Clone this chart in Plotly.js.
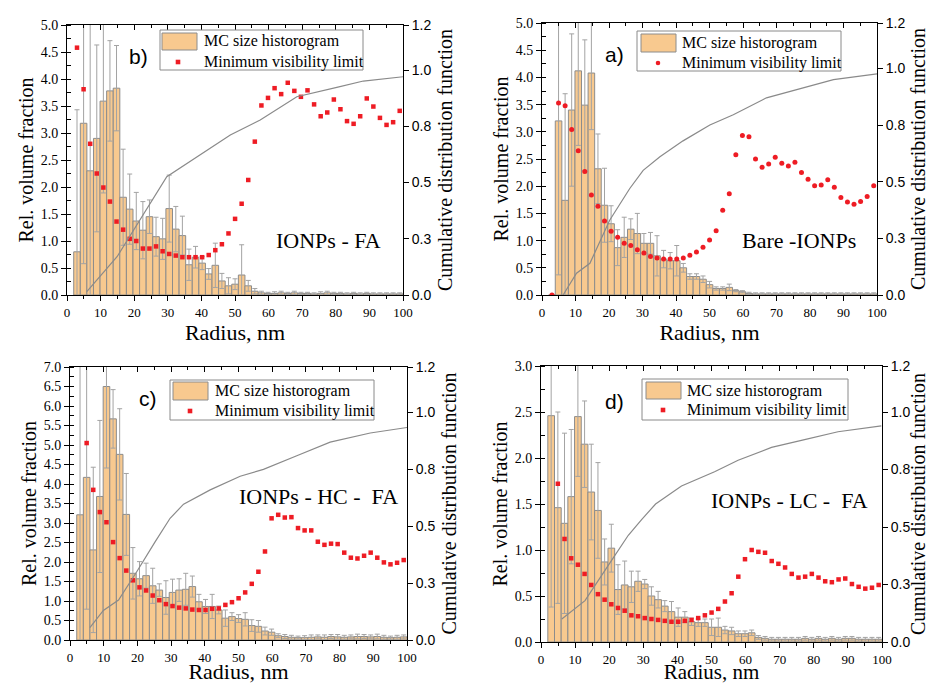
<!DOCTYPE html>
<html><head><meta charset="utf-8">
<script src="https://cdn.plot.ly/plotly-3.0.1.min.js"></script>
<style>html,body{margin:0;padding:0;background:#fff;}#chart{width:929px;height:684px;}</style>
</head><body><div id="chart"></div>
<script>
// ---------- data ----------
const radiusBins = [2.98,4.94,6.90,8.86,10.82,12.78,14.74,16.70,18.66,20.62,22.58,24.54,26.50,28.46,30.42,32.38,34.34,36.30,38.26,40.22,42.18,44.14,46.10,48.06,50.02,51.98,53.94,55.90,57.86,59.82,61.78,63.74,65.70,67.66,69.62,71.58,73.54,75.50,77.46,79.42,81.38,83.34,85.30,87.26,89.22,91.18,93.14,95.10,97.06,99.02];

// b) IONPs - FA
const volB = [0.80,3.18,2.30,2.90,3.59,3.78,3.83,1.81,1.59,1.37,1.20,1.45,1.08,1.04,1.60,1.22,1.10,0.56,0.70,0.59,0.39,0.55,0.26,0.17,0.20,0.37,0.17,0.07,0.04,0.03,0.03,0.04,0.03,0.04,0.03,0.03,0.02,0.03,0.04,0.03,0.03,0.02,0.03,0.02,0.03,0.02,0.02,0.02,0.02,0.02];
const errB = [2.63,2.60,3.00,1.73,1.70,0.93,0.79,0.89,0.65,0.53,0.53,0.31,0.36,0.38,0.62,0.42,0.36,0.29,0.20,0.12,0.10,0.41,0.14,0.15,0.10,0.56,0.10,0.05,0.03,0.02,0.03,0.03,0.02,0.03,0.02,0.02,0.02,0.03,0.03,0.02,0.02,0.02,0.02,0.02,0.02,0.02,0.02,0.02,0.02,0.02];
const mvlB = [4.58,3.81,2.80,2.25,1.99,1.73,1.36,1.21,1.04,1.00,0.86,0.86,0.90,0.81,0.76,0.73,0.70,0.70,0.70,0.70,0.74,0.83,0.94,1.14,1.41,1.69,2.13,2.84,3.51,3.65,3.83,3.72,3.93,3.78,3.67,3.79,3.53,3.31,3.38,3.62,3.44,3.22,3.17,3.31,3.64,3.49,3.28,3.15,3.20,3.41];
const cdfRadB = [5.9,14.9,29.7,41.6,48.6,57.5,68.4,80.3,88.2,100];
const cdfB = [0.015,0.17,0.526,0.644,0.711,0.778,0.881,0.923,0.951,0.97];

// a) Bare -IONPs
const volA = [0,3.20,1.74,3.40,4.12,3.49,4.08,2.32,1.65,1.31,0.87,1.06,1.21,1.13,0.95,0.95,0.72,0.66,0.63,0.63,0.50,0.34,0.34,0.29,0.19,0.12,0.12,0.14,0.08,0.06,0.03,0.02,0.02,0.02,0.02,0.02,0.02,0.02,0.02,0.02,0.02,0.02,0.02,0.02,0.02,0.02,0.02,0.02,0.02,0.02];
const errA = [0,2.83,1.96,1.40,1.37,1.20,1.04,0.64,0.68,0.33,0.33,0.37,0.19,0.37,0.18,0.20,0.37,0.16,0.15,0.28,0.08,0.05,0.05,0.06,0.06,0.03,0.03,0.06,0.02,0.02,0.02,0.02,0.02,0.02,0.02,0.02,0.02,0.02,0.02,0.02,0.02,0.02,0.02,0.02,0.02,0.02,0.02,0.02,0.02,0.02];
const mvlA = [0,3.53,3.48,3.04,2.65,2.27,1.84,1.63,1.36,1.17,1.06,0.95,0.91,0.83,0.77,0.71,0.68,0.66,0.66,0.66,0.68,0.73,0.79,0.88,1.01,1.18,1.56,1.86,2.58,2.93,2.91,2.50,2.35,2.41,2.53,2.42,2.37,2.44,2.25,2.13,2.01,2.02,2.12,1.98,1.79,1.71,1.67,1.72,1.81,2.01];
const cdfRadA = [6.3,10.3,14.3,20.2,26.2,30.2,35.2,42.1,50.1,57.1,67,77,87,100];
const cdfA = [0,0.096,0.14,0.33,0.47,0.55,0.61,0.68,0.75,0.795,0.87,0.91,0.95,0.976];

// c) IONPs - HC - FA
const volC = [3.21,4.17,2.31,3.68,6.50,5.67,4.76,3.22,1.71,1.57,1.65,1.39,1.28,1.09,1.22,1.28,1.30,1.37,0.98,0.86,0.86,0.77,0.56,0.60,0.55,0.53,0.37,0.35,0.23,0.20,0.11,0.09,0.07,0.06,0.06,0.07,0.08,0.07,0.09,0.08,0.07,0.08,0.09,0.09,0.08,0.09,0.07,0.06,0.07,0.08];
const errC = [4.00,3.38,2.12,1.95,2.09,0.75,1.17,1.05,0.66,0.44,0.32,0.45,0.16,0.43,0.34,0.29,0.41,0.27,0.19,0.18,0.31,0.10,0.21,0.10,0.10,0.17,0.15,0.15,0.10,0.08,0.05,0.05,0.05,0.04,0.05,0.06,0.05,0.06,0.05,0.06,0.05,0.05,0.06,0.05,0.05,0.06,0.05,0.04,0.05,0.05];
const mvlC = [null,5.05,3.85,3.28,3.02,2.51,2.10,1.78,1.53,1.35,1.27,1.14,1.02,0.92,0.87,0.83,0.81,0.78,0.77,0.77,0.80,0.81,0.90,0.97,1.07,1.22,1.44,1.75,2.27,3.12,3.21,3.14,3.15,2.87,2.81,2.81,2.52,2.44,2.47,2.46,2.24,2.11,2.09,2.16,2.24,2.11,1.99,1.94,1.98,2.05];
const cdfRadC = [5.9,9.9,14.4,19.8,25.2,29.7,33.7,41.6,50.5,57.4,67.3,77.2,89.1,100];
const cdfC = [0.054,0.13,0.176,0.30,0.43,0.535,0.597,0.66,0.72,0.75,0.81,0.87,0.91,0.934];

// d) IONPs - LC - FA
const volD = [2.46,1.46,1.29,1.58,2.45,2.15,1.63,1.43,0.87,1.02,0.57,0.62,0.60,0.66,0.63,0.50,0.46,0.39,0.33,0.27,0.27,0.22,0.21,0.21,0.16,0.16,0.13,0.12,0.09,0.09,0.10,0.05,0.04,0.03,0.03,0.03,0.03,0.03,0.04,0.03,0.04,0.03,0.04,0.03,0.04,0.04,0.03,0.03,0.03,0.03];
const errD = [2.08,1.04,0.98,0.73,0.65,0.47,0.52,0.52,0.25,0.26,0.27,0.26,0.17,0.11,0.05,0.10,0.09,0.06,0.11,0.10,0.06,0.04,0.04,0.04,0.09,0.10,0.04,0.04,0.03,0.03,0.03,0.02,0.02,0.02,0.02,0.02,0.02,0.02,0.02,0.02,0.02,0.02,0.02,0.02,0.02,0.02,0.02,0.02,0.02,0.02];
const mvlD = [null,1.72,1.12,0.91,0.84,0.74,0.62,0.52,0.46,0.41,0.37,0.34,0.29,0.28,0.26,0.25,0.24,0.23,0.22,0.22,0.23,0.24,0.26,0.29,0.32,0.36,0.44,0.53,0.71,0.90,1.00,0.98,0.97,0.88,0.85,0.81,0.74,0.70,0.71,0.74,0.70,0.66,0.65,0.68,0.69,0.63,0.60,0.58,0.59,0.62];
const cdfRadD = [6.1,12.9,20.7,25.6,29.5,33.6,41.2,50.9,57.8,67.6,77.3,87.1,99.8];
const cdfD = [0.10,0.18,0.355,0.464,0.532,0.60,0.678,0.74,0.79,0.846,0.88,0.914,0.94];

const cdfTickVals = [0,0.25,0.5,0.75,1.0,1.2];
const cdfTickText = ["0.0","0.3","0.5","0.8","1.0","1.2"];
const legendTexts = ["MC size historogram","Minimum visibility limit"];

// ---------- layout ----------
const W = 929, H = 684;
const px = x => x / W, py = y => 1 - y / H;
const SERIF = "Liberation Serif, 'Times New Roman', serif";
const SANS = "Liberation Sans, Arial, sans-serif";
const BAR_FILL = '#F8C98F', BAR_LINE = '#8c8c8c', ERR = '#a3a3a3', RED = '#ee1c24', CDF_LINE = '#8a8a8a';

const panels = [
  {tag:'b)', label:'IONPs - FA', vol:volB, err:errB, mvl:mvlB, cr:cdfRadB, cdf:cdfB, box:[67,25,403,295], yMax:5, sym:'square', xst:4, xfs:22,
   tagPos:[138,56], labPos:[328,240], leg:[160,30,363,70], sw:[162,33,197,50], mk:[178,62], tx:202},
  {tag:'a)', label:'Bare -IONPs', vol:volA, err:errA, mvl:mvlA, cr:cdfRadA, cdf:cdfA, box:[542,23,877,295], yMax:5, sym:'circle', xst:4, xfs:22,
   tagPos:[614,54], labPos:[799,240], leg:[637,31,841,71], sw:[641,34,676,52], mk:[658,63], tx:680},
  {tag:'c)', label:'IONPs - HC -\u00a0 FA', vol:volC, err:errC, mvl:mvlC, cr:cdfRadC, cdf:cdfC, box:[70,367,407,640], yMax:7, sym:'square', xst:1, xfs:22,
   tagPos:[148,398], labPos:[318,496], leg:[170,380,374,420], sw:[173,382,208,400], mk:[190,411], tx:213},
  {tag:'d)', label:'IONPs - LC -\u00a0 FA', vol:volD, err:errD, mvl:mvlD, cr:cdfRadD, cdf:cdfD, box:[541,366,882,642], yMax:3, sym:'square', xst:5, xfs:21,
   tagPos:[614,401], labPos:[789,500], leg:[642,379,848,420], sw:[646,382,681,399], mk:[663,410], tx:685}
];

const data = [];
const layout = {
  width: W, height: H, margin: {l:0, r:0, t:0, b:0},
  paper_bgcolor: '#fff', plot_bgcolor: 'rgba(0,0,0,0)',
  showlegend: false, bargap: 0,
  font: {family: SERIF, color: '#000'},
  shapes: [], annotations: []
};

panels.forEach((p, i) => {
  const xn = i === 0 ? '' : String(i + 1);
  const xt = String(i + 5);
  const yl = i === 0 ? '' : String(2 * i + 1);
  const yr = String(2 * i + 2);
  const xref = 'x' + xn, ylref = 'y' + yl, yrref = 'y' + yr;
  const [x0, y0, x1, y1] = p.box;

  layout['xaxis' + xn] = {
    domain: [px(x0), px(x1)], anchor: ylref, range: [0, 100],
    dtick: 10, tick0: 0, ticks: 'outside', ticklen: 5, tickcolor: '#000',
    minor: {dtick: 5, ticks: 'outside', ticklen: 3, tickcolor: '#000'},
    showline: true, linecolor: '#000', linewidth: 1, mirror: true,
    showgrid: false, zeroline: false,
    tickfont: {family: SERIF, size: 13},
    title: {text: 'Radius, nm', font: {family: SERIF, size: p.xfs}, standoff: p.xst}
  };
  // top edge: inward-pointing ticks only
  layout['xaxis' + xt] = {
    overlaying: xref, anchor: ylref, side: 'top', range: [0, 100],
    dtick: 10, tick0: 0, ticks: 'inside', ticklen: 5, tickcolor: '#000',
    minor: {dtick: 5, ticks: 'inside', ticklen: 3, tickcolor: '#000'},
    showticklabels: false, showline: false, showgrid: false, zeroline: false
  };
  layout['yaxis' + yl] = {
    domain: [py(y1), py(y0)], anchor: xref, range: [0, p.yMax],
    dtick: 0.5, tick0: 0, tickformat: '.1f', ticks: 'outside', ticklen: 5, tickcolor: '#000',
    minor: {dtick: 0.25, ticks: 'inside', ticklen: 4, tickcolor: '#000'},
    showline: true, linecolor: '#000', linewidth: 1,
    showgrid: false, zeroline: false,
    tickfont: {family: SERIF, size: 14},
    title: {text: 'Rel. volume fraction', font: {family: SERIF, size: 20}, standoff: 1}
  };
  layout['yaxis' + yr] = {
    overlaying: ylref, anchor: xref, side: 'right', range: [0, 1.2],
    tickvals: cdfTickVals, ticktext: cdfTickText, ticks: 'outside', ticklen: 5, tickcolor: '#000',
    showline: true, linecolor: '#000', linewidth: 1,
    showgrid: false, zeroline: false,
    tickfont: {family: SANS, size: 14},
    title: {text: 'Cumulative distribution function', font: {family: SERIF, size: 20}, standoff: 7}
  };

  data.push({
    type: 'bar', x: radiusBins, y: p.vol, width: 1.96, xaxis: xref, yaxis: ylref,
    name: legendTexts[0],
    marker: {color: BAR_FILL, line: {color: BAR_LINE, width: 1}},
    error_y: {type: 'data', array: p.err, visible: true, color: ERR, thickness: 1, width: 2.5}
  });
  data.push({
    type: 'scatter', mode: 'markers', x: radiusBins, y: p.mvl, xaxis: xref, yaxis: ylref,
    name: legendTexts[1],
    marker: {symbol: p.sym, size: p.sym === 'circle' ? 5 : 4.5, color: RED}
  });
  data.push({
    type: 'scatter', mode: 'lines', x: p.cr, y: p.cdf, xaxis: xref, yaxis: yrref,
    name: 'Cumulative distribution function',
    line: {color: CDF_LINE, width: 1.2}
  });
  // empty trace so the top tick-only axis gets drawn
  data.push({type: 'scatter', mode: 'lines', x: [], y: [], xaxis: 'x' + xt, yaxis: ylref, hoverinfo: 'skip', showlegend: false});

  // custom legend box
  const [lx0, ly0, lx1, ly1] = p.leg;
  layout.shapes.push({type:'rect', xref:'paper', yref:'paper', x0:px(lx0), x1:px(lx1), y0:py(ly1), y1:py(ly0),
    line:{color:'#8a8a8a', width:1}, fillcolor:'#fff', layer:'above'});
  const [sx0, sy0, sx1, sy1] = p.sw;
  layout.shapes.push({type:'rect', xref:'paper', yref:'paper', x0:px(sx0), x1:px(sx1), y0:py(sy1), y1:py(sy0),
    line:{color:BAR_LINE, width:1}, fillcolor:BAR_FILL, layer:'above'});
  const [mx, my] = p.mk, r = 2.3;
  layout.shapes.push({type: p.sym === 'circle' ? 'circle' : 'rect', xref:'paper', yref:'paper',
    x0:px(mx - r), x1:px(mx + r), y0:py(my + r), y1:py(my - r),
    line:{width:0}, fillcolor:RED, layer:'above'});
  const rowY = [(sy0 + sy1) / 2, my];
  legendTexts.forEach((t, k) => layout.annotations.push({
    xref:'paper', yref:'paper', x:px(p.tx), y:py(rowY[k]), xanchor:'left', yanchor:'middle',
    text:t, showarrow:false, font:{family:SERIF, size:16, color:'#000'}
  }));

  layout.annotations.push({xref:'paper', yref:'paper', x:px(p.tagPos[0]), y:py(p.tagPos[1]),
    xanchor:'center', yanchor:'middle', text:p.tag, showarrow:false, font:{family:SANS, size:21, color:'#000'}});
  layout.annotations.push({xref:'paper', yref:'paper', x:px(p.labPos[0]), y:py(p.labPos[1]),
    xanchor:'center', yanchor:'middle', text:p.label, showarrow:false, font:{family:SERIF, size:22, color:'#000'}});
});

Plotly.newPlot('chart', data, layout, {displayModeBar: false, staticPlot: true});
</script>
</body></html>
